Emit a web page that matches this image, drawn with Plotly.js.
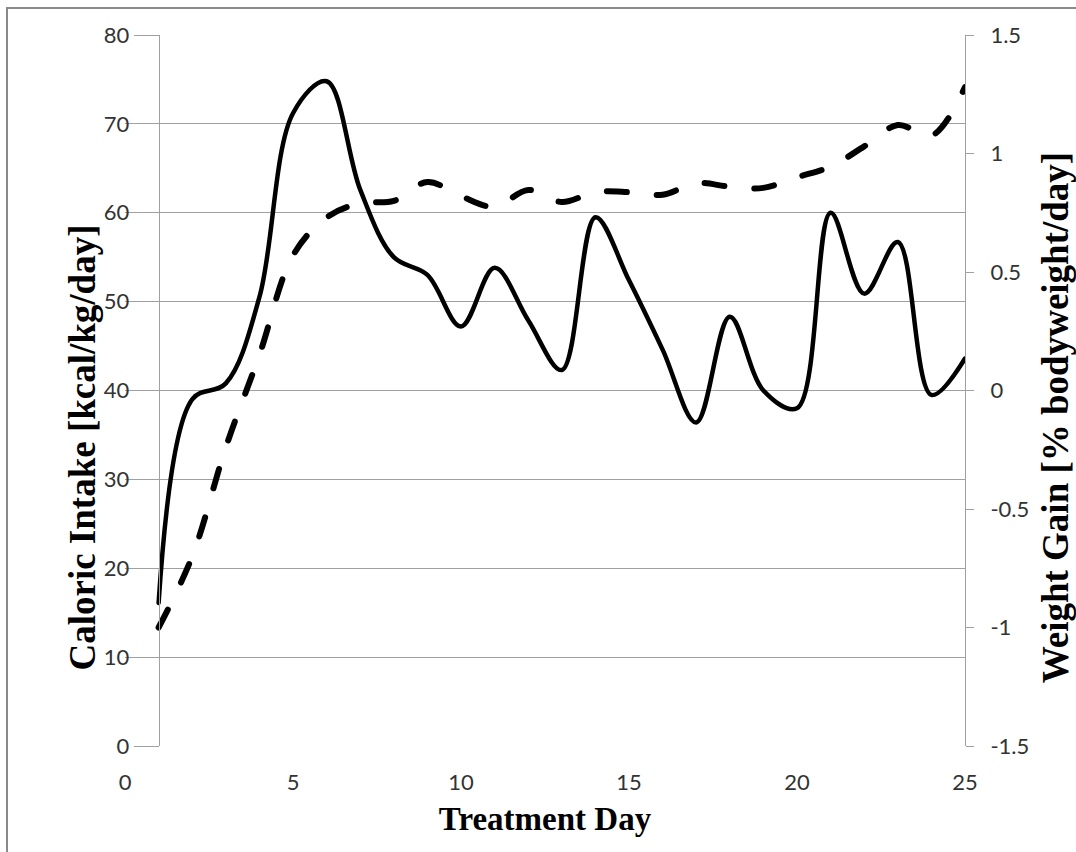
<!DOCTYPE html>
<html>
<head>
<meta charset="utf-8">
<script src="https://cdn.plot.ly/plotly-3.0.1.min.js"></script>
<style>
html,body{margin:0;padding:0;background:#fff;}
#wrap{position:relative;width:1076px;height:852px;overflow:hidden;}
#chart{width:1076px;height:852px;}
#frame{position:absolute;left:6px;top:7px;width:1200px;height:1000px;border-left:2px solid #8a8a8a;border-top:2px solid #8a8a8a;pointer-events:none;}
.scatterlayer .js-line{stroke-linecap:round;stroke-linejoin:round;}
</style>
</head>
<body>
<div id="wrap"><div id="chart"></div><div id="frame"></div></div>
<script>
// Treatment days
const days = [1,2,3,4,5,6,7,8,9,10,11,12,13,14,15,16,17,18,19,20,21,22,23,24,25];
// Caloric intake [kcal/kg/day] (left axis, solid line)
const caloricIntake = [16.1,39.0,40.8,50.5,71.2,74.8,62.6,55.0,53.0,47.2,53.8,47.9,42.3,59.5,52.4,44.6,36.4,48.3,40.0,38.0,60.0,50.9,56.7,39.5,43.6];
// Weight gain [% bodyweight/day] (right axis, dashed line)
const weightGain = [-1.0,-0.70,-0.24,0.15,0.57,0.73,0.79,0.80,0.88,0.82,0.775,0.846,0.795,0.837,0.837,0.826,0.875,0.86,0.855,0.90,0.945,1.03,1.12,1.075,1.28];

const xTickVals = [0,5,10,15,20,25];
const leftTickVals = [0,10,20,30,40,50,60,70,80];
const rightTickVals = [-1.5,-1,-0.5,0,0.5,1,1.5];
const rightTickText = ['-1.5','-1','-0.5','0','0.5','1','1.5'];

const xTitle = 'Treatment Day';
const leftTitle = 'Caloric Intake [kcal/kg/day]';
const rightTitle = 'Weight Gain [% bodyweight/day]';

const gridGray = '#a0a0a0';
const tickFont = {family: 'Lato, "Open Sans", sans-serif', size: 22, color: '#333333'};
const xTitleFont = {family: '"Liberation Serif", "Times New Roman", serif', size: 33, color: '#000000', weight: 'bold'};
const yTitleFont = {family: '"Liberation Serif", "Times New Roman", serif', size: 37, color: '#000000', weight: 'bold'};

const traces = [
  {
    x: days, y: caloricIntake, type: 'scatter', mode: 'lines', yaxis: 'y',
    line: {color: '#000000', width: 4.5, shape: 'spline', smoothing: 1},
    hoverinfo: 'skip', showlegend: false
  },
  {
    x: days, y: weightGain, type: 'scatter', mode: 'lines', yaxis: 'y2',
    line: {color: '#000000', width: 6, shape: 'spline', smoothing: 1, dash: '20px,30px'},
    hoverinfo: 'skip', showlegend: false
  }
];

const layout = {
  width: 1076, height: 852,
  margin: {l: 125, r: 111, t: 35, b: 106, pad: 0},
  paper_bgcolor: '#ffffff', plot_bgcolor: '#ffffff',
  showlegend: false,
  xaxis: {
    range: [0, 25], tickvals: xTickVals, ticktext: xTickVals.map(String),
    showgrid: false, zeroline: false, showline: false,
    ticks: 'outside', ticklen: 17, tickcolor: 'rgba(0,0,0,0)',
    tickfont: tickFont, automargin: false,
    title: {text: xTitle, font: xTitleFont, standoff: 12}
  },
  yaxis: {
    range: [0, 80], tickvals: leftTickVals, anchor: 'free', position: 0.04, side: 'left',
    showline: true, linecolor: gridGray, linewidth: 1,
    ticks: 'outside', ticklen: 25, tickcolor: gridGray, tickwidth: 1,
    showgrid: true, gridcolor: gridGray, gridwidth: 1, zeroline: false,
    tickfont: tickFont, automargin: false
  },
  yaxis2: {
    range: [-1.5, 1.5], tickvals: rightTickVals, ticktext: rightTickText,
    overlaying: 'y', side: 'right', anchor: 'x',
    showline: true, linecolor: gridGray, linewidth: 1,
    ticks: 'outside', ticklen: 8, tickcolor: gridGray, tickwidth: 1,
    showgrid: false, zeroline: false,
    tickfont: tickFont, automargin: false, ticklabelstandoff: 12
  },
  shapes: [
    {type: 'rect', xref: 'x', yref: 'paper', x0: 0, x1: 1, y0: -0.01, y1: 1.01,
     fillcolor: '#ffffff', line: {width: 0}, layer: 'between'}
  ],
  annotations: [
    {text: leftTitle, xref: 'paper', yref: 'paper', x: -0.051, y: 0.42,
     xanchor: 'center', yanchor: 'middle', textangle: -90, showarrow: false, font: yTitleFont},
    {text: rightTitle, xref: 'paper', yref: 'paper', x: 1.108, y: 0.462,
     xanchor: 'center', yanchor: 'middle', textangle: -90, showarrow: false, font: yTitleFont}
  ]
};

Plotly.newPlot('chart', traces, layout, {staticPlot: true, displayModeBar: false});
</script>
</body>
</html>
